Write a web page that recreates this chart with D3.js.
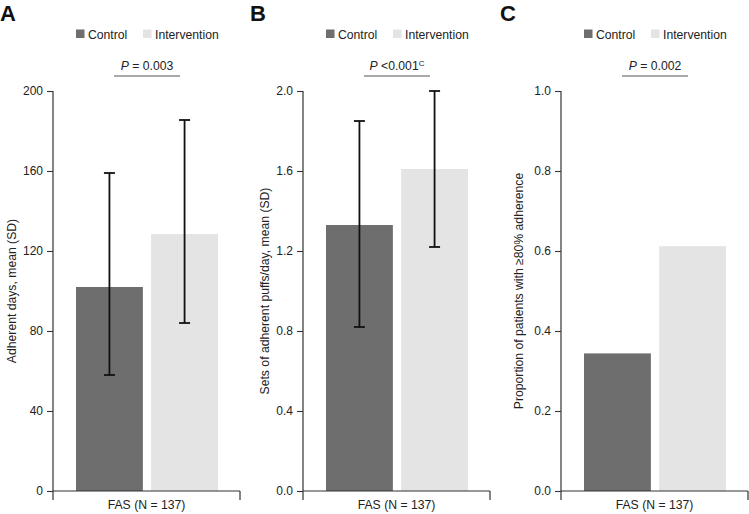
<!DOCTYPE html>
<html><head><meta charset="utf-8">
<script src="https://cdn.jsdelivr.net/npm/d3@7"></script>
<style>
body{margin:0;background:#fff;}
svg{display:block;font-family:"Liberation Sans",Arial,Helvetica,sans-serif;}
</style></head>
<body>
<svg id="chart" width="749" height="514"></svg>
<script>
// ---- data ----
const categories = ["Control", "Intervention"];
const panelLetters = ["A", "B", "C"];
const yLabels = ["Adherent days, mean (SD)", "Sets of adherent puffs/day, mean (SD)", "Proportion of patients with \u226580% adherence"];
const xLabel = "FAS (N = 137)";
const pTexts = ["= 0.003", "<0.001", "= 0.002"];
const pSup = ["", "c", ""];
const yMax = [200, 2.0, 1.0];
const yTicksA = [0, 40, 80, 120, 160, 200];
const yTicksB = [0, 0.4, 0.8, 1.2, 1.6, 2.0];
const yTicksC = [0, 0.2, 0.4, 0.6, 0.8, 1.0];
const meansA = [102, 128.5];
const sdLowA = [58, 84];
const sdHighA = [159, 185.5];
const meansB = [1.33, 1.61];
const sdLowB = [0.82, 1.22];
const sdHighB = [1.85, 2.0];
const propC = [0.344, 0.612];
const colors = ["#6e6e6e", "#e4e4e4"];

const panels = [
  {values: meansA, low: sdLowA, high: sdHighA, ticks: yTicksA, fmt: d3.format("d")},
  {values: meansB, low: sdLowB, high: sdHighB, ticks: yTicksB, fmt: d3.format(".1f")},
  {values: propC, low: null, high: null, ticks: yTicksC, fmt: d3.format(".1f")}
];
const axisXs = [53, 303, 561];
const panelLefts = [0, 250, 500];
const labelXs = [16, 269, 523];

const svg = d3.select("#chart");
const textCol = "#222";
const axisCol = "#333";

panels.forEach((p, i) => {
  const ax = axisXs[i];
  const g = svg.append("g");
  const y = d3.scaleLinear().domain([0, yMax[i]]).range([491, 91]);
  const x = d3.scaleBand().domain(categories).range([ax + 23, ax + 165]).paddingInner(0.11);

  // panel letter
  g.append("text").attr("x", panelLefts[i]).attr("y", 21)
    .attr("font-size", 22).attr("font-weight", "bold").attr("fill", "#111").text(panelLetters[i]);

  // legend
  const lx0 = x.range()[0];
  categories.forEach((c, k) => {
    const lx = lx0 + k * 67;
    g.append("rect").attr("x", lx).attr("y", 29.5).attr("width", 8.5).attr("height", 8.5).attr("fill", colors[k]);
    g.append("text").attr("x", lx + 12).attr("y", 38.5).attr("font-size", 12.2).attr("fill", textCol).text(c);
  });

  // P value
  const cx = (x.range()[0] + x.range()[1]) / 2;
  const pt = g.append("text").attr("x", cx).attr("y", 70).attr("text-anchor", "middle")
    .attr("font-size", 12.2).attr("fill", textCol);
  pt.append("tspan").attr("font-style", "italic").text("P");
  pt.append("tspan").text(" " + pTexts[i]);
  if (pSup[i]) pt.append("tspan").attr("dy", -4).attr("font-size", 8).text(pSup[i].toUpperCase());
  g.append("line").attr("x1", cx - 33).attr("x2", cx + 33).attr("y1", 76).attr("y2", 76)
    .attr("stroke", "#555").attr("stroke-width", 1.2);

  // bars
  g.selectAll("rect.bar").data(p.values).join("rect").attr("class", "bar")
    .attr("x", (d, k) => x(categories[k])).attr("width", x.bandwidth())
    .attr("y", d => y(d)).attr("height", d => y(0) - y(d))
    .attr("fill", (d, k) => colors[k]);

  // error bars
  if (p.low) {
    categories.forEach((c, k) => {
      const ex = x(c) + x.bandwidth() / 2;
      g.append("line").attr("x1", ex).attr("x2", ex).attr("y1", y(p.low[k])).attr("y2", y(p.high[k]))
        .attr("stroke", "#111").attr("stroke-width", 1.8);
      [p.low[k], p.high[k]].forEach(v => {
        g.append("line").attr("x1", ex - 5.5).attr("x2", ex + 5.5).attr("y1", y(v)).attr("y2", y(v))
          .attr("stroke", "#111").attr("stroke-width", 1.8);
      });
    });
  }

  // y axis
  const ya = g.append("g").attr("transform", `translate(${ax},0)`)
    .call(d3.axisLeft(y).tickValues(p.ticks).tickFormat(p.fmt).tickSize(6).tickSizeOuter(0).tickPadding(4));
  ya.select(".domain").remove();
  ya.append("line").attr("x1", 0).attr("x2", 0).attr("y1", y(yMax[i])).attr("y2", 500)
    .attr("stroke", axisCol).attr("stroke-width", 1.2);
  ya.selectAll(".tick line").attr("stroke", axisCol).attr("stroke-width", 1.1);
  ya.selectAll(".tick text").attr("font-size", 12).attr("fill", textCol)
    .attr("font-family", '"Liberation Sans",Arial,sans-serif');

  // x axis baseline
  const xr = ax + 187;
  g.append("line").attr("x1", ax).attr("x2", xr).attr("y1", y(0)).attr("y2", y(0))
    .attr("stroke", axisCol).attr("stroke-width", 1.2);
  g.append("line").attr("x1", xr).attr("x2", xr).attr("y1", y(0)).attr("y2", 500)
    .attr("stroke", axisCol).attr("stroke-width", 1.2);

  // x label
  g.append("text").attr("x", (ax + xr) / 2).attr("y", 509).attr("text-anchor", "middle")
    .attr("font-size", 12.2).attr("fill", textCol).text(xLabel);

  // y label
  g.append("text").attr("transform", `translate(${labelXs[i]},291) rotate(-90)`)
    .attr("text-anchor", "middle").attr("font-size", 12.2).attr("fill", textCol).text(yLabels[i]);
});
</script>
</body></html>
